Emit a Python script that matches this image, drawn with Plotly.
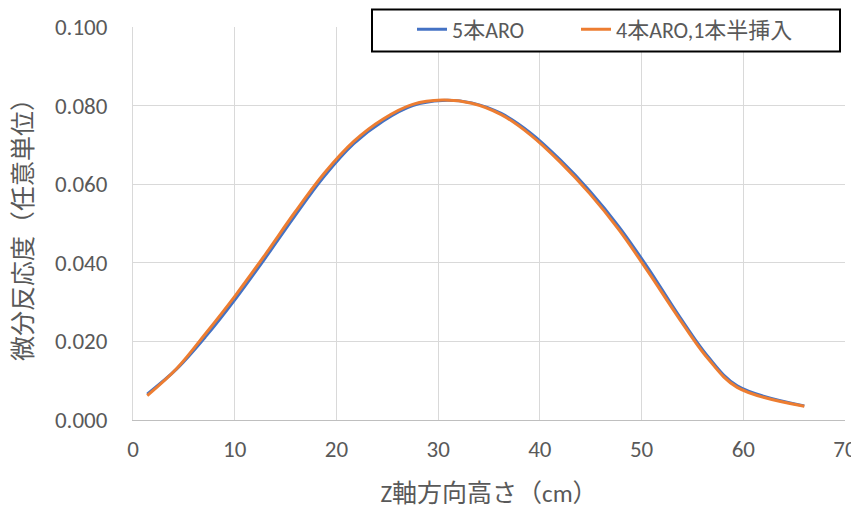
"""Differential reactivity along the Z axis: 5 rods ARO vs 4 rods ARO + 1.5 rods inserted."""

import plotly.graph_objects as go

# Z height positions (cm)
z_cm = [1.4, 4.3, 7.2, 10.1, 13.0, 15.9, 18.8, 21.7, 24.6, 27.5, 30.4,
        33.3, 36.2, 39.1, 42.0, 44.9, 47.8, 50.7, 53.6, 56.5, 59.4, 66.0]

# differential reactivity (arbitrary units)
aro_5 = [0.0066, 0.0130, 0.0214, 0.0309, 0.0412, 0.0519, 0.0620, 0.0703,
         0.0761, 0.0800, 0.0813, 0.0807, 0.0780, 0.0730, 0.0662, 0.0583,
         0.0491, 0.0384, 0.0268, 0.0162, 0.0087, 0.0036]
aro_4_half = [0.0062, 0.0131, 0.0222, 0.0318, 0.0421, 0.0528, 0.0628, 0.0709,
              0.0766, 0.0803, 0.0814, 0.0806, 0.0777, 0.0725, 0.0656, 0.0576,
              0.0483, 0.0375, 0.0262, 0.0157, 0.0083, 0.0035]

series_names = ["5本ARO", "4本ARO,1本半挿入"]
x_title = "Z軸方向高さ（cm）"
y_title = "微分反応度（任意単位）"

font_family = "Calibri, 'Noto Sans CJK JP', sans-serif"
text_grey = "#595959"
grid_grey = "#d9d9d9"

# the page body adds an 8px margin, so the figure is drawn 8px smaller
fig_w, fig_h = 851, 501
margin = dict(l=125, r=14, t=19, b=89, autoexpand=False)
plot_w = fig_w - margin["l"] - margin["r"]
plot_h = fig_h - margin["t"] - margin["b"]


def px_to_paper_x(px):
    return (px - margin["l"]) / plot_w


def px_to_paper_y(py):
    return (fig_h - margin["b"] - py) / plot_h


fig = go.Figure()

fig.add_trace(go.Scatter(
    x=z_cm, y=aro_5, mode="lines", name=series_names[0],
    line=dict(color="#4472c4", width=3, shape="spline", smoothing=1.0),
    legend="legend",
))
fig.add_trace(go.Scatter(
    x=z_cm, y=aro_4_half, mode="lines", name=series_names[1],
    line=dict(color="#ed7d31", width=3, shape="spline", smoothing=1.0),
    legend="legend2",
))

# legend frame (Excel-style box with black border)
fig.add_shape(
    type="rect", xref="paper", yref="paper",
    x0=px_to_paper_x(364), x1=px_to_paper_x(832),
    y0=px_to_paper_y(43.5), y1=px_to_paper_y(1.5),
    line=dict(color="black", width=2),
    fillcolor="white",
    layer="above",
)

legend_style = dict(
    orientation="h",
    yanchor="top", y=px_to_paper_y(0.5),
    bgcolor="rgba(0,0,0,0)",
    borderwidth=0,
    font=dict(size=22, color=text_grey),
)

fig.update_layout(
    width=fig_w,
    height=fig_h,
    margin=margin,
    plot_bgcolor="white",
    paper_bgcolor="white",
    font=dict(family=font_family, size=21, color=text_grey),
    showlegend=True,
    legend=dict(xanchor="left", x=px_to_paper_x(404), **legend_style),
    legend2=dict(xanchor="left", x=px_to_paper_x(568), **legend_style),
    xaxis=dict(
        range=[0, 70],
        dtick=10,
        showgrid=True,
        gridcolor=grid_grey,
        gridwidth=1,
        zeroline=False,
        showline=True,
        linecolor="#bfbfbf",
        linewidth=1,
        ticks="",
        automargin=False,
        ticklabelstandoff=8,
        title=dict(text=x_title, standoff=24, font=dict(size=25)),
        tickfont=dict(size=23),
    ),
    yaxis=dict(
        range=[0, 0.1],
        dtick=0.02,
        tickformat=".3f",
        showgrid=True,
        gridcolor=grid_grey,
        gridwidth=1,
        zeroline=False,
        showline=True,
        linecolor=grid_grey,
        ticks="",
        automargin=False,
        ticklabelstandoff=20,
        title=dict(text=y_title, standoff=22, font=dict(size=25)),
        tickfont=dict(size=23),
    ),
)

fig.write_html("out.html")
